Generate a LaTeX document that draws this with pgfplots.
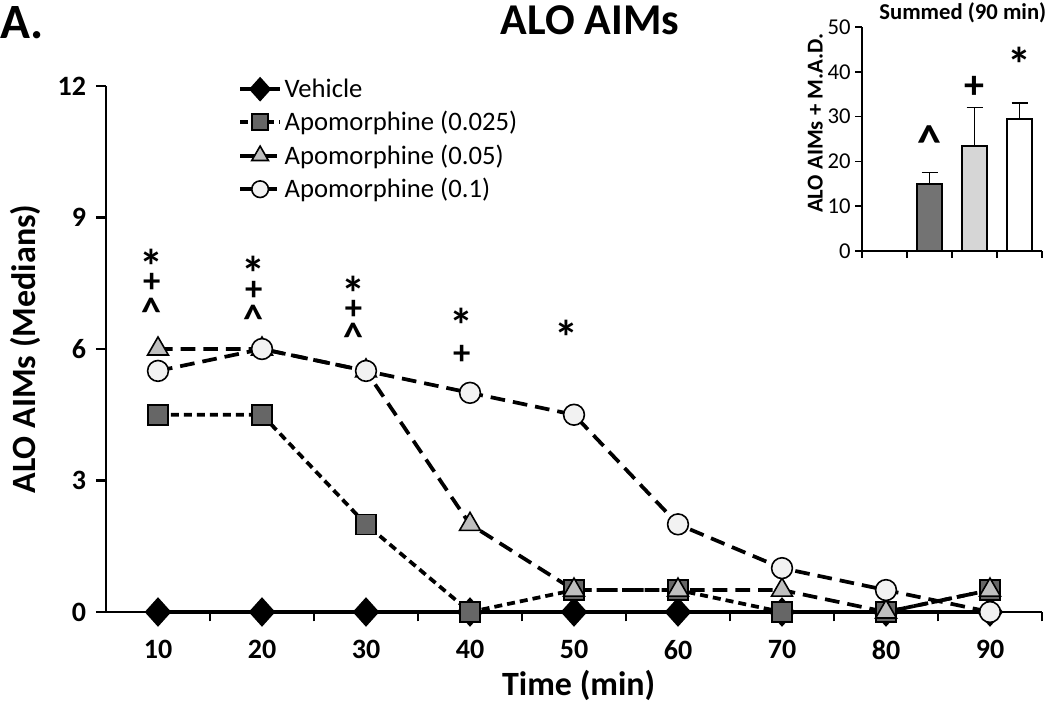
\documentclass[border=0pt]{standalone}
\usepackage{pgfplots}
\pgfplotsset{compat=1.18}
\usepackage{fontspec}
\setmainfont{Carlito}
\definecolor{cA}{HTML}{666666}
\definecolor{cB}{HTML}{BFBFBF}
\definecolor{cC}{HTML}{F2F2F2}
\definecolor{bA}{HTML}{737373}
\definecolor{bB}{HTML}{D6D6D6}
\tikzset{st/.style={inner sep=0pt, font=\bfseries\fontsize{36}{36}\selectfont},
  pl/.style={inner sep=0pt, font=\bfseries\fontsize{26}{26}\selectfont},
  ca/.style={inner sep=0pt, font=\bfseries\fontsize{30}{30}\selectfont}}
\begin{document}
\begin{tikzpicture}
\useasboundingbox (-79.5pt,-67.5pt) rectangle (708pt,459pt);
\begin{axis}[
  at={(0pt,0pt)}, anchor=south west,
  scale only axis, width=702pt, height=394.5pt,
  xmin=5, xmax=95, ymin=0, ymax=12,
  axis lines=left,
  axis line style={line width=1.8pt,-},
  every tick/.style={black, line width=1.8pt},
  xtick={10,20,...,90},
  major x tick style={draw=none},
  minor xtick={15,25,...,95},
  ytick={0,3,6,9,12},
  tick align=outside,
  major tick length=7.5pt, minor tick length=7pt,
  /pgf/number format/assume math mode=true,
  tick label style={font=\bfseries\fontsize{21}{21}\selectfont},
  xticklabel style={yshift=-10pt},
  yticklabel style={xshift=-4pt},
  xlabel={Time (min)},
  ylabel={ALO AIMs (Medians)},
  label style={font=\bfseries\fontsize{25.5}{25.5}\selectfont},
  xlabel style={at={(axis description cs:0.505,-0.139)}, anchor=center},
  ylabel style={at={(axis description cs:-0.0865,0.5)}, anchor=center, rotate=0},
  clip=false,
  legend style={at={(axis description cs:0.141,1.019)}, anchor=north west, draw=none, fill=none,
     font=\fontsize{20}{20}\selectfont, row sep=5pt, inner sep=0pt},
  legend cell align=left,
  legend image code/.code={
    \draw[mark repeat=2,mark phase=2,#1,every mark/.append style={scale=0.8}] plot coordinates {(0pt,0pt) (15pt,0pt) (30pt,0pt)};},
]
\addplot[black, line width=2.8pt, mark=diamond*, mark size=9pt, mark options={solid, xscale=1.2, fill=black}]
  coordinates {(10,0) (20,0) (30,0) (40,0) (50,0) (60,0) (70,0) (80,0) (90,0)};
\addlegendentry{Vehicle}
\addplot[black, line width=2.8pt, dash pattern=on 6pt off 3.75pt, mark=square*, mark size=7.5pt, mark options={solid, fill=cA, line width=1.2pt}]
  coordinates {(10,4.5) (20,4.5) (30,2) (40,0) (50,0.5) (60,0.5) (70,0) (80,0) (90,0.5)};
\addlegendentry{Apomorphine (0.025)}
\addplot[black, line width=2.8pt, dash pattern=on 11pt off 6pt, mark=triangle*, mark size=9pt, mark options={solid, fill=cB, line width=1.2pt}]
  coordinates {(10,6) (20,6) (30,5.5) (40,2) (50,0.5) (60,0.5) (70,0.5) (80,0) (90,0.5)};
\addlegendentry{Apomorphine (0.05)}
\addplot[black, line width=2.8pt, dash pattern=on 11pt off 6pt, mark=*, mark size=7.8pt, mark options={solid, fill=cC, line width=1.2pt}]
  coordinates {(10,5.5) (20,6) (30,5.5) (40,5) (50,4.5) (60,2) (70,1) (80,0.5) (90,0)};
\addlegendentry{Apomorphine (0.1)}
\node[st] at (axis cs:9.4,7.89) {*};
\node[pl] at (axis cs:9.4,7.5) {+};
\node[ca] at (axis cs:9.4,6.85) {\textasciicircum};
\node[st] at (axis cs:19.2,7.73) {*};
\node[pl] at (axis cs:19.2,7.33) {+};
\node[ca] at (axis cs:19.2,6.68) {\textasciicircum};
\node[st] at (axis cs:28.8,7.28) {*};
\node[pl] at (axis cs:28.8,6.9) {+};
\node[ca] at (axis cs:28.8,6.27) {\textasciicircum};
\node[st] at (axis cs:39.2,6.53) {*};
\node[pl] at (axis cs:39.2,5.87) {+};
\node[st] at (axis cs:49.3,6.26) {*};
\node[font=\bfseries\fontsize{33}{33}\selectfont] at (axis description cs:0.517,1.125) {ALO AIMs};
\node[font=\bfseries\fontsize{37}{37}\selectfont] at (axis description cs:-0.09,1.12) {A.};
\end{axis}
\begin{axis}[
  at={(567pt,270.75pt)}, anchor=south west,
  scale only axis, width=135pt, height=168pt,
  xmin=0.5, xmax=4.5, ymin=0, ymax=50,
  axis lines=left,
  axis line style={line width=1.2pt,-},
  every tick/.style={black, line width=1.2pt},
  xtick={0.5,1.5,2.5,3.5,4.5}, xticklabels={},
  ytick={0,10,...,50},
  tick align=outside, major tick length=5pt,
  /pgf/number format/assume math mode=true,
  tick label style={font=\fontsize{17}{17}\selectfont},
  ylabel={ALO AIMs + M.A.D.},
  ylabel style={font=\bfseries\fontsize{17}{17}\selectfont, at={(axis description cs:-0.26,0.57)}, anchor=center},
  clip=false,
  error bars/error bar style={line width=1.2pt},
  error bars/error mark options={rotate=90, line width=1.2pt, mark size=6pt},
]
\addplot[ybar, bar width=18.75pt, fill=bA, draw=black, line width=1.2pt,
  error bars/.cd, y dir=plus, y explicit] coordinates {(2,15) +- (0,2.5)};
\addplot[ybar, bar width=18.75pt, fill=bB, draw=black, line width=1.2pt,
  error bars/.cd, y dir=plus, y explicit] coordinates {(3,23.5) +- (0,8.5)};
\addplot[ybar, bar width=18.75pt, fill=white, draw=black, line width=1.2pt,
  error bars/.cd, y dir=plus, y explicit] coordinates {(4,29.5) +- (0,3.5)};
\node[ca, font=\bfseries\fontsize{36}{36}\selectfont] at (axis cs:2,24.3) {\textasciicircum};
\node[pl, font=\bfseries\fontsize{30}{30}\selectfont] at (axis cs:3,36.6) {+};
\node[st] at (axis cs:4,41.6) {*};
\node[font=\bfseries\fontsize{17}{17}\selectfont] at ([yshift=10.5pt]axis description cs:0.56,1) {Summed (90 min)};
\end{axis}
\end{tikzpicture}
\end{document}
